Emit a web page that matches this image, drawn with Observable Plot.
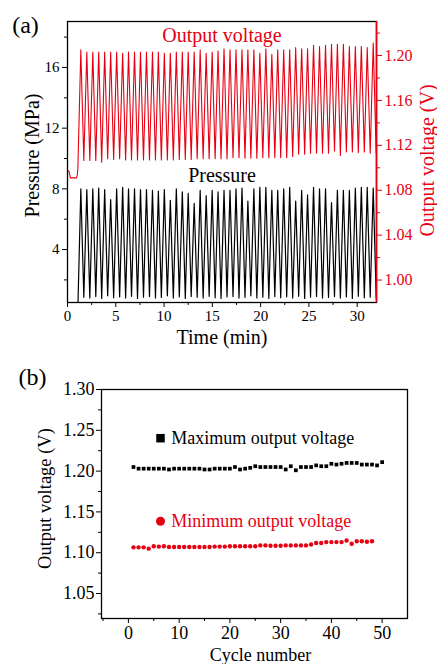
<!DOCTYPE html>
<html><head><meta charset="utf-8">
<script src="https://cdn.jsdelivr.net/npm/d3@7"></script>
<script src="https://cdn.jsdelivr.net/npm/@observablehq/plot@0.6"></script>
<style>
body{margin:0;background:#fff;}
#wrap{position:relative;width:437px;height:664px;}
#wrap svg{position:absolute;left:0;}
#wrap svg text{font-family:"Liberation Serif","Times New Roman",serif;}
</style></head><body><div id="wrap"></div>
<script>
// ---------- Panel (a) data ----------
const preTimeP = [0, 1.08];
const prePressure = [0.3, 0.3];
const preTimeV = [0, 0.15, 0.3, 0.93, 1.0, 1.07];
const preVoltage = [1.097, 1.097, 1.091, 1.091, 1.093, 1.098];
const tPeak = [1.38,2.00,2.62,3.23,3.85,4.47,5.09,5.71,6.32,6.94,7.56,8.18,8.80,9.41,10.03,10.65,11.27,11.89,12.50,13.12,13.74,14.36,14.98,15.59,16.21,16.83,17.45,18.07,18.68,19.30,19.92,20.54,21.16,21.77,22.39,23.01,23.63,24.25,24.86,25.48,26.10,26.72,27.34,27.95,28.57,29.19,29.81,30.43,31.04,31.66];
const tTrough = [1.69,2.31,2.93,3.54,4.16,4.78,5.40,6.02,6.63,7.25,7.87,8.49,9.11,9.72,10.34,10.96,11.58,12.20,12.81,13.43,14.05,14.67,15.29,15.90,16.52,17.14,17.76,18.38,18.99,19.61,20.23,20.85,21.47,22.08,22.70,23.32,23.94,24.56,25.17,25.79,26.41,27.03,27.65,28.26,28.88,29.50,30.12,30.74,31.35,31.97];
const pMax = [8.0,7.95,8.0,8.05,7.95,7.3,8.0,8.1,8.0,8.0,7.95,7.95,7.9,7.85,7.95,7.25,8.0,7.8,7.7,7.05,7.9,7.55,7.9,7.8,7.9,7.9,8.0,8.05,7.2,8.0,8.1,8.1,7.9,7.9,8.0,8.1,7.2,7.9,7.6,8.1,8.0,8.0,7.1,7.9,7.9,7.9,8.05,8.1,8.1,8.05];
const pMin = [0.85,0.8,0.9,0.78,0.95,0.82,0.88,0.8,0.92,0.78,0.86,0.9,0.8,0.84,0.95,0.8,0.88,0.78,0.9,0.85,0.8,0.92,0.82,0.78,0.88,0.9,0.8,0.84,0.95,0.8,0.86,0.78,0.9,0.82,0.88,0.8,0.92,0.78,0.86,0.9,0.8,0.84,0.9,0.8,0.88,0.78,0.92,0.82,0.86,0.8];
const vTroughExtra = [1.113, 1.113];

// ---------- Panel (b) data ----------
const cycles = [1,2,3,4,5,6,7,8,9,10,11,12,13,14,15,16,17,18,19,20,21,22,23,24,25,26,27,28,29,30,31,32,33,34,35,36,37,38,39,40,41,42,43,44,45,46,47,48,49,50];
const vMax = [1.205,1.203,1.203,1.203,1.203,1.203,1.203,1.202,1.203,1.203,1.203,1.203,1.203,1.203,1.202,1.202,1.203,1.203,1.203,1.203,1.205,1.202,1.203,1.204,1.206,1.205,1.205,1.205,1.205,1.205,1.202,1.206,1.201,1.205,1.205,1.205,1.207,1.206,1.206,1.209,1.208,1.209,1.210,1.210,1.210,1.208,1.208,1.208,1.207,1.211];
const vMin = [1.1066,1.1066,1.1066,1.105,1.108,1.1075,1.108,1.107,1.107,1.107,1.107,1.107,1.107,1.107,1.107,1.107,1.1075,1.1075,1.1075,1.108,1.108,1.108,1.108,1.108,1.108,1.109,1.109,1.1085,1.1085,1.1085,1.109,1.109,1.109,1.109,1.109,1.110,1.112,1.112,1.113,1.113,1.113,1.113,1.115,1.111,1.114,1.114,1.1135,1.114];

// ticks
const aXTicks = [0,5,10,15,20,25,30];
const aXMinor = [2.5,7.5,12.5,17.5,22.5,27.5];
const aPTicks = [4,8,12,16];
const aPMinor = [2,6,10,14,18];
const aVTicks = [1.00,1.04,1.08,1.12,1.16,1.20];
const aVMinor = [1.02,1.06,1.10,1.14,1.18,1.22];
const aXDomain = [0, 32];
const aPDomain = [0.51, 19.03];
const aVDomain = [0.98, 1.2303];
const bXTicks = [0,10,20,30,40,50];
const bXMinor = [-5,5,15,25,35,45];
const bYTicks = [1.05,1.10,1.15,1.20,1.25,1.30];
const bYMinor = [1.025,1.075,1.125,1.175,1.225,1.275];
const bXDomain = [-5.3, 55];
const bYDomain = [1.0194, 1.30];

const RED = "#e60012";
const FONT = "Liberation Serif";

const v2p = d3.scaleLinear().domain(aVDomain).range(aPDomain);

const pSeries = [
  ...preTimeP.map((t, i) => ({t, p: prePressure[i]})),
  ...tPeak.map((t, i) => ({t, p: pMax[i]})),
  ...tTrough.map((t, i) => ({t, p: pMin[i]}))
].sort((a, b) => a.t - b.t);
const vTroughA = [...vMin, ...vTroughExtra];
const vSeries = [
  ...preTimeV.map((t, i) => ({t, v: preVoltage[i]})),
  ...tPeak.map((t, i) => ({t, v: vMax[i]})),
  ...tTrough.map((t, i) => ({t, v: vTroughA[i]}))
].sort((a, b) => a.t - b.t);

const T = {fontFamily: FONT, lineAnchor: "middle"};

const chartA = Plot.plot({
  width: 437, height: 350,
  marginLeft: 67, marginRight: 61, marginTop: 21, marginBottom: 48,
  style: {fontFamily: FONT, fontSize: "15px", background: "transparent", overflow: "visible", color: "black"},
  x: {domain: aXDomain},
  y: {domain: aPDomain},
  marks: [
    Plot.line(pSeries, {x: "t", y: "p", stroke: "black", strokeWidth: 1.2, clip: true}),
    Plot.line(vSeries, {x: "t", y: d => v2p(d.v), stroke: RED, strokeWidth: 1.1, clip: true}),
    Plot.frame({stroke: "black", strokeWidth: 1.3}),
    Plot.ruleX([aXDomain[1]], {stroke: RED, strokeWidth: 1.6}),
    Plot.axisX(aXTicks, {tickSize: 5, tickPadding: 3, fontSize: 15, fontFamily: FONT, label: null}),
    Plot.axisX(aXMinor, {tickSize: 3, text: null, label: null}),
    Plot.axisY(aPTicks, {anchor: "left", tickSize: 5, tickPadding: 3, fontSize: 15, fontFamily: FONT, label: null}),
    Plot.axisY(aPMinor, {anchor: "left", tickSize: 3, text: null, label: null}),
    Plot.axisY(aVTicks.map(v2p), {anchor: "right", color: RED, tickSize: 5, tickPadding: 3, fontSize: 16, fontFamily: FONT, label: null,
      tickFormat: p => v2p.invert(p).toFixed(2)}),
    Plot.axisY(aVMinor.map(v2p), {anchor: "right", color: RED, tickSize: 3, text: null, label: null}),
    Plot.text(["(a)"], {...T, frameAnchor: "top-left", dx: -42, dy: 4, fontSize: 24, textAnchor: "middle"}),
    Plot.text(["Output voltage"], {...T, frameAnchor: "top", dy: 14, fontSize: 20, fill: RED}),
    Plot.text(["Pressure"], {...T, frameAnchor: "top", dy: 154, fontSize: 20, fill: "black"}),
    Plot.text(["Pressure (MPa)"], {...T, frameAnchor: "left", textAnchor: "middle", rotate: -90, dx: -35, dy: -6.5, fontSize: 20, fill: "black"}),
    Plot.text(["Output voltage (V)"], {...T, frameAnchor: "right", textAnchor: "middle", rotate: -90, dx: 51, dy: -1.5, fontSize: 20, fill: RED}),
    Plot.text(["Time (min)"], {...T, frameAnchor: "bottom", dy: 35, fontSize: 20, fill: "black"})
  ]
});
chartA.style.top = "0px";

const maxData = cycles.map((c, i) => ({c, v: vMax[i]}));
const minData = vMin.map((v, i) => ({c: cycles[i], v}));

const chartB = Plot.plot({
  width: 437, height: 314,
  marginLeft: 101, marginRight: 30, marginTop: 39, marginBottom: 46,
  style: {fontFamily: FONT, fontSize: "18px", background: "transparent", overflow: "visible", color: "black"},
  x: {domain: bXDomain},
  y: {domain: bYDomain},
  marks: [
    Plot.frame({stroke: "black", strokeWidth: 1.3}),
    Plot.axisX(bXTicks, {tickSize: 5, tickPadding: 3, fontSize: 18, fontFamily: FONT, label: null}),
    Plot.axisX(bXMinor, {tickSize: 3, text: null, label: null}),
    Plot.axisY(bYTicks, {anchor: "left", tickSize: 5, tickPadding: 2, fontSize: 18, fontFamily: FONT, label: null, tickFormat: d3.format(".2f")}),
    Plot.axisY(bYMinor, {anchor: "left", tickSize: 3, text: null, label: null}),
    Plot.dot(maxData, {x: "c", y: "v", symbol: "square", fill: "black", r: 2.1}),
    Plot.dot(minData, {x: "c", y: "v", symbol: "circle", fill: RED, r: 2.2}),
    Plot.dot(["Maximum output voltage"], {frameAnchor: "top-left", dx: 59, dy: 48.7, symbol: "square", fill: "black", r: 4.8}),
    Plot.text(["Maximum output voltage"], {...T, frameAnchor: "top-left", dx: 69.7, dy: 48.7, textAnchor: "start", fontSize: 18, fill: "black"}),
    Plot.dot(["Minimum output voltage"], {frameAnchor: "top-left", dx: 59, dy: 131.7, symbol: "circle", fill: RED, r: 4.5}),
    Plot.text(["Minimum output voltage"], {...T, frameAnchor: "top-left", dx: 69.7, dy: 131.7, textAnchor: "start", fontSize: 18, fill: RED}),
    Plot.text(["(b)"], {...T, frameAnchor: "top-left", dx: -69, dy: -12.3, fontSize: 24, textAnchor: "middle"}),
    Plot.text(["Output voltage (V)"], {...T, frameAnchor: "left", textAnchor: "middle", rotate: -90, dx: -56, dy: -5.5, fontSize: 18.5, fill: "black"}),
    Plot.text(["Cycle number"], {...T, frameAnchor: "bottom", dx: 6, dy: 37, fontSize: 18, fill: "black"})
  ]
});
chartB.style.top = "350px";

const wrap = document.getElementById("wrap");
wrap.appendChild(chartA);
wrap.appendChild(chartB);
</script>
</body></html>
